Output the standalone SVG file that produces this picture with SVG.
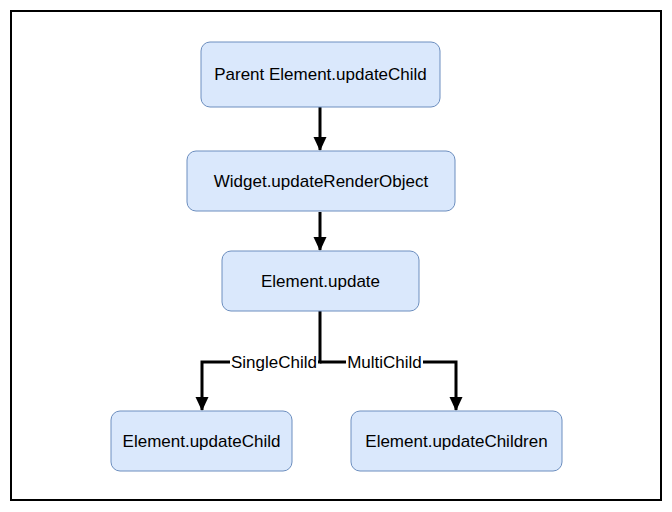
<svg xmlns="http://www.w3.org/2000/svg" width="672" height="512" viewBox="0 0 672 512">
<style>
.node rect{fill:#dae8fc;stroke:#6c8ebf;stroke-width:1}
.node text,.lbl{font-family:"Liberation Sans",Arial,sans-serif;font-size:17px;fill:#000;text-anchor:middle;dominant-baseline:central}
.edge{fill:none;stroke:#000;stroke-width:3}
</style>
<defs>
<marker id="arr" markerWidth="14" markerHeight="14" refX="13" refY="7" orient="auto" markerUnits="userSpaceOnUse">
<path d="M0,0.5 L14,7 L0,13.5 Z" fill="#000"/>
</marker>
</defs>
<rect x="11" y="11" width="650" height="489" fill="#fff" stroke="#000" stroke-width="2"/>
<g id="connectors">
<path class="edge" d="M320,107 L320,150" marker-end="url(#arr)"/>
<path class="edge" d="M320,212 L320,250" marker-end="url(#arr)"/>
<path class="edge" d="M320,311 L320,362 L202,362 L202,410" marker-end="url(#arr)"/>
<path class="edge" d="M320,362 L456,362 L456,410" marker-end="url(#arr)"/>
<rect x="230" y="353" width="88" height="18" fill="#fff"/>
<text class="lbl" x="274" y="362">SingleChild</text>
<rect x="346" y="353" width="77" height="18" fill="#fff"/>
<text class="lbl" x="384.5" y="362">MultiChild</text>
</g>
<g id="n1" class="node"><rect x="201" y="42" width="239" height="65" rx="9"/><text x="320.5" y="74.5">Parent Element.updateChild</text></g>
<g id="n2" class="node"><rect x="187" y="151" width="268" height="60" rx="9"/><text x="321" y="181">Widget.updateRenderObject</text></g>
<g id="n3" class="node"><rect x="222" y="251" width="197" height="60" rx="9"/><text x="320.5" y="281">Element.update</text></g>
<g id="n4" class="node"><rect x="111" y="411" width="181" height="60" rx="9"/><text x="201.5" y="441">Element.updateChild</text></g>
<g id="n5" class="node"><rect x="351" y="411" width="211" height="60" rx="9"/><text x="456.5" y="441">Element.updateChildren</text></g>
</svg>
